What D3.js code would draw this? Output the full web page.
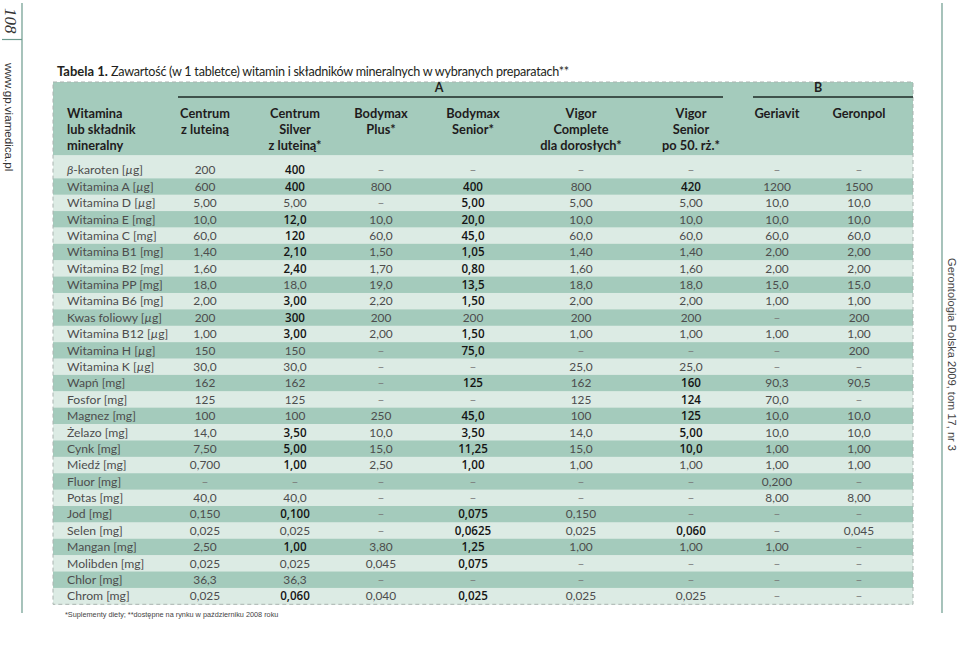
<!DOCTYPE html>
<html><head><meta charset="utf-8">
<script src="https://cdn.jsdelivr.net/npm/d3@7"></script>
<style>body{margin:0;background:#fff}svg{display:block}</style>
</head><body><svg id="c" width="960" height="658"></svg>
<script>
// ---------- DATA ----------
const title = ["Tabela 1.", " Zawartość (w 1 tabletce) witamin i składników mineralnych w wybranych preparatach**"];
const footnote = "*Suplementy diety; **dostępne na rynku w październiku 2008 roku";
const rowHeader = ["Witamina", "lub składnik", "mineralny"];
const nutrients = ["β-karoten [µg]","Witamina A [µg]","Witamina D [µg]","Witamina E [mg]","Witamina C [mg]",
  "Witamina B1 [mg]","Witamina B2 [mg]","Witamina PP [mg]","Witamina B6 [mg]","Kwas foliowy [µg]",
  "Witamina B12 [µg]","Witamina H [µg]","Witamina K [µg]","Wapń [mg]","Fosfor [mg]","Magnez [mg]",
  "Żelazo [mg]","Cynk [mg]","Miedź [mg]","Fluor [mg]","Potas [mg]","Jod [mg]","Selen [mg]",
  "Mangan [mg]","Molibden [mg]","Chlor [mg]","Chrom [mg]"];
const products = ["Centrum z luteiną","Centrum Silver z luteiną","Bodymax Plus","Bodymax Senior",
  "Vigor Complete dla dorosłych","Vigor Senior po 50. rż.","Geriavit","Geronpol"];
const productHeaders = [["Centrum","z luteiną"],["Centrum","Silver","z luteiną*"],["Bodymax","Plus*"],
  ["Bodymax","Senior*"],["Vigor","Complete","dla dorosłych*"],["Vigor","Senior","po 50. rż.*"],["Geriavit"],["Geronpol"]];
const groupA = products.slice(0, 6);
const groupB = products.slice(6);

const centrumLuteina = ["200","600","5,00","10,0","60,0","1,40","1,60","18,0","2,00","200","1,00","150","30,0","162","125","100","14,0","7,50","0,700",null,"40,0","0,150","0,025","2,50","0,025","36,3","0,025"];
const centrumSilver  = ["400","400","5,00","12,0","120","2,10","2,40","18,0","3,00","300","3,00","150","30,0","162","125","100","3,50","5,00","1,00",null,"40,0","0,100","0,025","1,00","0,025","36,3","0,060"];
const bodymaxPlus    = [null,"800",null,"10,0","60,0","1,50","1,70","19,0","2,20","200","2,00",null,null,null,null,"250","10,0","15,0","2,50",null,null,null,null,"3,80","0,045",null,"0,040"];
const bodymaxSenior  = [null,"400","5,00","20,0","45,0","1,05","0,80","13,5","1,50","200","1,50","75,0",null,"125",null,"45,0","3,50","11,25","1,00",null,null,"0,075","0,0625","1,25","0,075",null,"0,025"];
const vigorComplete  = [null,"800","5,00","10,0","60,0","1,40","1,60","18,0","2,00","200","1,00",null,"25,0","162","125","100","14,0","15,0","1,00",null,null,"0,150","0,025","1,00",null,null,"0,025"];
const vigorSenior    = [null,"420","5,00","10,0","60,0","1,40","1,60","18,0","2,00","200","1,00",null,"25,0","160","124","125","5,00","10,0","1,00",null,null,null,"0,060","1,00",null,null,"0,025"];
const geriavit       = [null,"1200","10,0","10,0","60,0","2,00","2,00","15,0","1,00",null,"1,00",null,null,"90,3","70,0","10,0","10,0","1,00","1,00","0,200","8,00",null,null,"1,00",null,null,null];
const geronpol       = [null,"1500","10,0","10,0","60,0","2,00","2,00","15,0","1,00","200","1,00","200",null,"90,5",null,"10,0","10,0","1,00","1,00",null,"8,00",null,"0,045",null,null,null,null];
const seriesValues = [centrumLuteina, centrumSilver, bodymaxPlus, bodymaxSenior, vigorComplete, vigorSenior, geriavit, geronpol];

// rows (nutrient indices) printed in emphasis, per product
const emphSilver = [0,1,3,4,5,6,8,9,10,16,17,18,21,23,26];
const emphBodymaxSenior = [1,2,3,4,5,6,7,8,10,11,13,15,16,17,18,21,22,23,24,26];
const emphVigorSenior = [1,13,14,15,16,17,22];
const emphasis = [[], emphSilver, [], emphBodymaxSenior, [], emphVigorSenior, [], []];

// ---------- LAYOUT ----------
const svg = d3.select("#c");
const W = 960, H = 658;
svg.append("rect").attr("width", W).attr("height", H).attr("fill", "#fff");

const tableL = 53, tableR = 913, tableT = 82, headB = 155.5, tableB = 604.3;
const labelX = 67;
const x = d3.scaleOrdinal().domain(products).range([205, 295, 381, 473, 581, 691, 777, 859]);
const y = d3.scaleBand().domain(nutrients).range([161.9, tableB]);

const cDark = "#a4cbbc", cLight = "#dcebe4";
const normalFont = "Lato, 'Open Sans', sans-serif";

// header background
svg.append("rect").attr("x", tableL).attr("y", tableT).attr("width", tableR - tableL).attr("height", headB - tableT).attr("fill", cDark);

// row backgrounds
svg.append("g").selectAll("rect").data(nutrients).join("rect")
  .attr("x", tableL).attr("width", tableR - tableL)
  .attr("y", (d, i) => i === 0 ? headB : y(d))
  .attr("height", (d, i) => i === 0 ? y(d) + y.bandwidth() - headB : y.bandwidth() + 0.4)
  .attr("fill", (d, i) => i % 2 === 0 ? cLight : cDark);

// dashed border
svg.append("rect").attr("x", tableL).attr("y", tableT).attr("width", tableR - tableL).attr("height", tableB - tableT)
  .attr("fill", "none").attr("stroke", "#a9b3af").attr("stroke-width", 1).attr("stroke-dasharray", "4,3");

// title
const t = svg.append("text").attr("x", 57).attr("y", 76).attr("font-family", normalFont).attr("fill", "#231f20");
t.append("tspan").attr("font-weight", "bold").attr("font-size", 13).text(title[0]);
t.append("tspan").attr("font-size", 12.6).attr("letter-spacing", -0.25).text(title[1]);

// group headers
const groupDefs = [{name: "A", cols: groupA, x1: x(groupA[0]) - 27, x2: x(groupA[groupA.length - 1]) + 32, lx: 439},
                   {name: "B", cols: groupB, x1: x(groupB[0]) - 24, x2: tableR, lx: 818}];
const gh = svg.append("g");
groupDefs.forEach(g => {
  gh.append("line").attr("x1", g.x1).attr("x2", g.x2).attr("y1", 97).attr("y2", 97).attr("stroke", "#1e2a26").attr("stroke-width", 1.4);
  gh.append("text").attr("x", g.lx).attr("y", 92).attr("text-anchor", "middle").attr("font-family", normalFont)
    .attr("font-weight", "bold").attr("font-size", 12.5).attr("fill", "#231f20").text(g.name);
});

// column headers
const lineY = [117.8, 133.8, 149.8];
const hdr = svg.append("g").attr("font-family", normalFont).attr("font-weight", "bold").attr("font-size", 12.8).attr("fill", "#1f1b1c");
rowHeader.forEach((s, i) => hdr.append("text").attr("x", labelX).attr("y", lineY[i]).text(s));
products.forEach((p, j) => {
  productHeaders[j].forEach((s, i) => hdr.append("text").attr("x", x(p)).attr("y", lineY[i]).attr("text-anchor", "middle").text(s));
});

// row labels (β and µ italic)
const lab = svg.append("g").attr("font-family", normalFont).attr("font-size", 12.2).attr("fill", "#4d4d4d");
nutrients.forEach(n => {
  const tx = lab.append("text").attr("x", labelX).attr("y", y(n) + y.bandwidth() / 2 + 4.3);
  n.split(/([βµ])/).filter(s => s.length).forEach(s => {
    const ts = tx.append("tspan").text(s);
    if (s === "β" || s === "µ") ts.attr("font-style", "italic");
  });
});

// cells
const cells = [];
products.forEach((p, j) => seriesValues[j].forEach((v, i) => cells.push({p, n: nutrients[i], v, em: emphasis[j].includes(i)})));
svg.append("g").selectAll("text").data(cells).join("text")
  .attr("x", d => x(d.p))
  .attr("y", d => y(d.n) + y.bandwidth() / 2 + 4.3)
  .attr("text-anchor", "middle")
  .attr("font-family", d => d.em ? "'Open Sans', sans-serif" : normalFont)
  .attr("font-weight", d => d.em ? 600 : "normal")
  .attr("font-size", d => d.em ? 11.6 : 11.9)
  .attr("fill", d => d.em ? "#141414" : (d.v === null ? "#777" : "#4d4d4d"))
  .text(d => d.v === null ? "–" : d.v);

// footnote
svg.append("text").attr("x", 65).attr("y", 617).attr("font-family", "'Liberation Sans', Arial, sans-serif").attr("font-size", 7.3).attr("fill", "#444").text(footnote);

// page furniture
const fr = svg.append("g").attr("stroke", "#6c9a8d").attr("stroke-width", 1.2);
fr.append("line").attr("x1", 22).attr("x2", 22).attr("y1", 3).attr("y2", 613);
fr.append("line").attr("x1", 2).attr("x2", 22).attr("y1", 39.5).attr("y2", 39.5);
fr.append("line").attr("x1", 942).attr("x2", 942).attr("y1", 3).attr("y2", 613);

svg.append("text").attr("transform", "translate(4.5,8) rotate(90)").attr("font-family", "'Liberation Serif', serif")
  .attr("font-style", "italic").attr("font-size", 17).attr("fill", "#333").text("108");
svg.append("text").attr("transform", "translate(4.5,63) rotate(90)").attr("font-family", "'Liberation Sans', Arial, sans-serif")
  .attr("font-size", 11.6).attr("fill", "#333").text("www.gp.viamedica.pl");
svg.append("text").attr("transform", "translate(947.5,258) rotate(90)").attr("font-family", "'Liberation Sans', Arial, sans-serif")
  .attr("font-size", 11.1).attr("fill", "#444").text("Gerontologia Polska 2009, tom 17, nr 3");
</script></body></html>
